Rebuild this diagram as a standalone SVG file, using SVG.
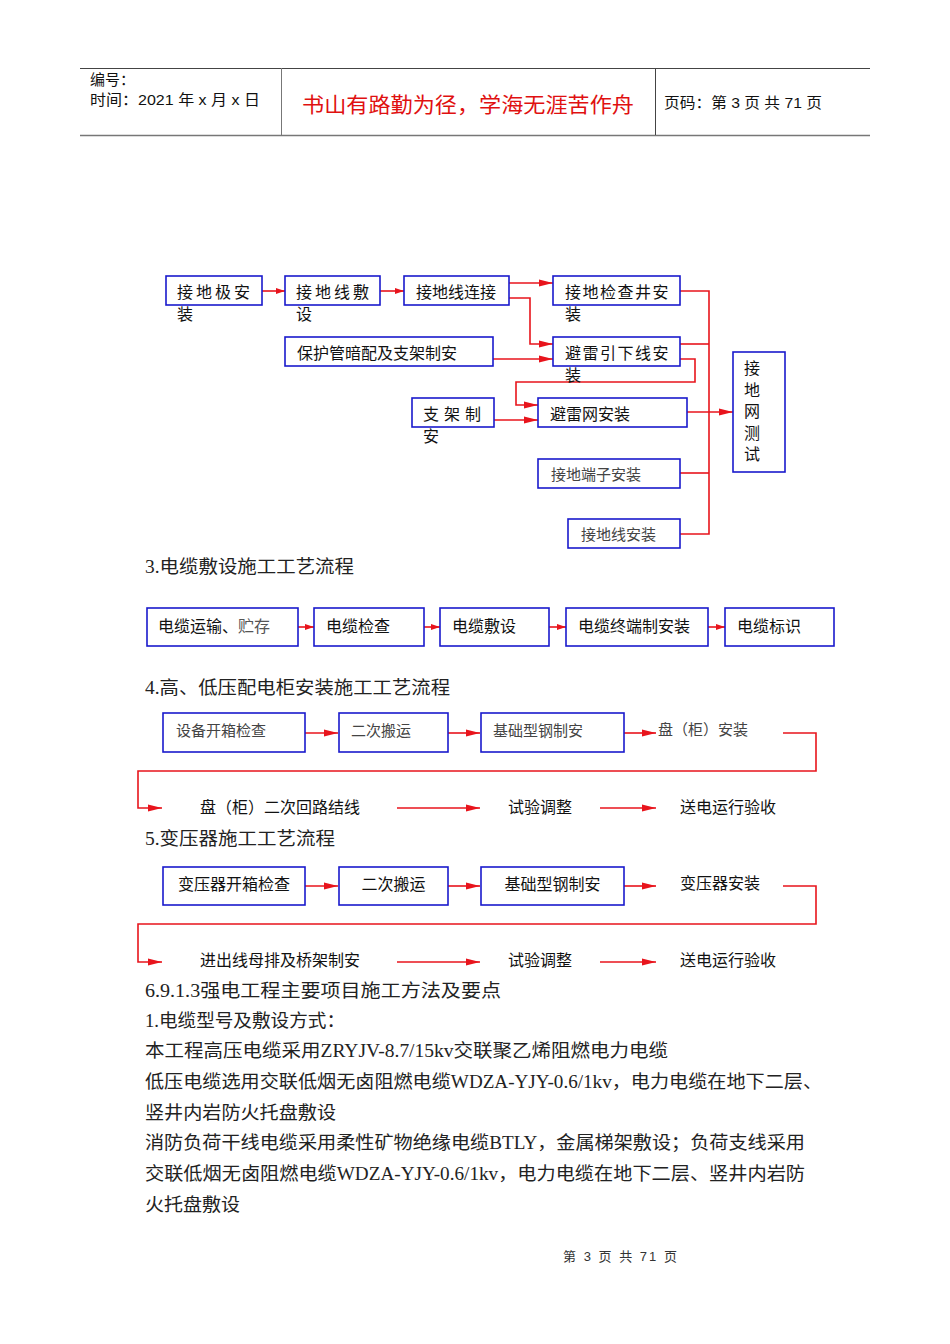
<svg xmlns="http://www.w3.org/2000/svg" width="950" height="1344" viewBox="0 0 950 1344">
<style>
.box{fill:#fff;stroke:#1a1acc;stroke-width:1.6}
.ln{fill:none;stroke:#e8141c;stroke-width:1.6}
.t{font-family:"Noto Sans CJK SC","Liberation Sans",sans-serif;font-size:16px;fill:#111}
.tg{font-family:"Noto Sans CJK SC","Liberation Sans",sans-serif;font-size:15px;fill:#444}
.s{font-family:"Liberation Serif","Noto Sans CJK SC",serif;font-size:18px;fill:#222}
.h{font-family:"Liberation Sans","Noto Sans CJK SC",sans-serif;font-size:15px;fill:#111}
</style>
<defs>
<marker id="a" markerUnits="userSpaceOnUse" markerWidth="14" markerHeight="8" refX="14" refY="4" orient="auto"><path d="M0,0.5 L14,4 L0,7.5 z" fill="#e8141c"/></marker>
<marker id="b" markerUnits="userSpaceOnUse" markerWidth="9" markerHeight="7" refX="9" refY="3.5" orient="auto"><path d="M0,0.5 L9,3.5 L0,6.5 z" fill="#e8141c"/></marker>
</defs>
<rect width="950" height="1344" fill="#fff"/>

<g id="header">
<line x1="80" y1="68.5" x2="870" y2="68.5" stroke="#444" stroke-width="1"/>
<line x1="80" y1="135.5" x2="870" y2="135.5" stroke="#777" stroke-width="1.5"/>
<line x1="281.5" y1="68" x2="281.5" y2="135" stroke="#777" stroke-width="1"/>
<line x1="655.5" y1="68" x2="655.5" y2="135" stroke="#444" stroke-width="1"/>
<text class="h" x="90" y="85">编号：</text>
<text class="h" x="90" y="105" textLength="170" lengthAdjust="spacingAndGlyphs">时间：2021 年 x 月 x 日</text>
<text x="302" y="112" textLength="332" lengthAdjust="spacingAndGlyphs" style="font-family:'Noto Sans CJK SC',sans-serif;font-size:21px;fill:#e01010">书山有路勤为径，学海无涯苦作舟</text>
<text class="h" x="664" y="108" textLength="158" lengthAdjust="spacingAndGlyphs">页码：第 3 页  共 71 页</text>
</g>

<g id="connectors">
<line class="ln" x1="262" y1="291" x2="285" y2="291" marker-end="url(#b)"/>
<line class="ln" x1="380" y1="291" x2="404" y2="291" marker-end="url(#b)"/>
<line class="ln" x1="509" y1="283" x2="553" y2="283" marker-end="url(#a)"/>
<polyline class="ln" points="509,298 530,298 530,344 553,344" marker-end="url(#a)"/>
<line class="ln" x1="493" y1="359" x2="553" y2="359" marker-end="url(#a)"/>
<polyline class="ln" points="680,359 695,359 695,382 516,382 516,405 538,405" marker-end="url(#a)"/>
<line class="ln" x1="494" y1="420" x2="538" y2="420" marker-end="url(#a)"/>
<polyline class="ln" points="680,291 709,291 709,534 680,534"/>
<line class="ln" x1="680" y1="344" x2="709" y2="344"/>
<line class="ln" x1="680" y1="473" x2="709" y2="473"/>
<line class="ln" x1="687" y1="412" x2="733" y2="412" marker-end="url(#a)"/>

<line class="ln" x1="298" y1="627" x2="314" y2="627" marker-end="url(#b)"/>
<line class="ln" x1="424" y1="627" x2="440" y2="627" marker-end="url(#b)"/>
<line class="ln" x1="549" y1="627" x2="566" y2="627" marker-end="url(#b)"/>
<line class="ln" x1="708" y1="627" x2="725" y2="627" marker-end="url(#b)"/>

<line class="ln" x1="305" y1="733" x2="338" y2="733" marker-end="url(#a)"/>
<line class="ln" x1="448" y1="733" x2="480" y2="733" marker-end="url(#a)"/>
<line class="ln" x1="624" y1="733" x2="656" y2="733" marker-end="url(#a)"/>
<polyline class="ln" points="783,733 816,733 816,771 138,771 138,808 162,808" marker-end="url(#a)"/>
<line class="ln" x1="397" y1="808" x2="480" y2="808" marker-end="url(#a)"/>
<line class="ln" x1="600" y1="808" x2="656" y2="808" marker-end="url(#a)"/>

<line class="ln" x1="305" y1="886" x2="338" y2="886" marker-end="url(#a)"/>
<line class="ln" x1="448" y1="886" x2="480" y2="886" marker-end="url(#a)"/>
<line class="ln" x1="624" y1="886" x2="656" y2="886" marker-end="url(#a)"/>
<polyline class="ln" points="783,886 816,886 816,924 138,924 138,962 162,962" marker-end="url(#a)"/>
<line class="ln" x1="397" y1="962" x2="480" y2="962" marker-end="url(#a)"/>
<line class="ln" x1="600" y1="962" x2="656" y2="962" marker-end="url(#a)"/>
</g>

<g id="n1"><rect class="box" x="166" y="276" width="96" height="29"/><text class="t" x="177" y="298" letter-spacing="3">接地极安</text><text class="t" x="177" y="320">装</text></g>
<g id="n2"><rect class="box" x="285" y="276" width="95" height="29"/><text class="t" x="296" y="298" letter-spacing="3">接地线敷</text><text class="t" x="296" y="320">设</text></g>
<g id="n3"><rect class="box" x="404" y="276" width="105" height="29"/><text class="t" x="416" y="298">接地线连接</text></g>
<g id="n4"><rect class="box" x="553" y="276" width="127" height="29"/><text class="t" x="565" y="298" letter-spacing="1.5">接地检查井安</text><text class="t" x="565" y="320">装</text></g>
<g id="n5"><rect class="box" x="285" y="337" width="208" height="29"/><text class="t" x="297" y="359">保护管暗配及支架制安</text></g>
<g id="n6"><rect class="box" x="553" y="337" width="127" height="29"/><text class="t" x="565" y="359" letter-spacing="1.5">避雷引下线安</text><text class="t" x="565" y="381">装</text></g>
<g id="n7"><rect class="box" x="412" y="398" width="82" height="29"/><text class="t" x="423" y="420" letter-spacing="5">支架制</text><text class="t" x="423" y="442">安</text></g>
<g id="n8"><rect class="box" x="538" y="398" width="149" height="29"/><text class="t" x="550" y="420">避雷网安装</text></g>
<g id="n9"><rect class="box" x="538" y="459" width="142" height="29"/><text class="tg" x="551" y="480">接地端子安装</text></g>
<g id="n10"><rect class="box" x="568" y="519" width="112" height="29"/><text class="tg" x="581" y="540">接地线安装</text></g>
<g id="n11"><rect class="box" x="733" y="352" width="52" height="120"/>
<text class="t" x="752" y="360" writing-mode="vertical-rl" letter-spacing="5.5">接地网测试</text></g>

<text class="s" x="145" y="573" textLength="209" lengthAdjust="spacingAndGlyphs">3.电缆敷设施工工艺流程</text>

<g id="c1"><rect class="box" x="147" y="608" width="151" height="38"/><text class="t" x="158" y="632">电缆运输、<tspan fill="#555">贮存</tspan></text></g>
<g id="c2"><rect class="box" x="314" y="608" width="110" height="38"/><text class="t" x="326" y="632">电缆检查</text></g>
<g id="c3"><rect class="box" x="440" y="608" width="109" height="38"/><text class="t" x="452" y="632">电缆敷设</text></g>
<g id="c4"><rect class="box" x="566" y="608" width="142" height="38"/><text class="t" x="578" y="632">电缆终端制安装</text></g>
<g id="c5"><rect class="box" x="725" y="608" width="109" height="38"/><text class="t" x="737" y="632">电缆标识</text></g>

<text class="s" x="145" y="694" textLength="305" lengthAdjust="spacingAndGlyphs">4.高、低压配电柜安装施工工艺流程</text>

<g id="p1"><rect class="box" x="163" y="713" width="142" height="39"/><text class="tg" x="176" y="736">设备开箱检查</text></g>
<g id="p2"><rect class="box" x="339" y="713" width="109" height="39"/><text class="tg" x="351" y="736">二次搬运</text></g>
<g id="p3"><rect class="box" x="481" y="713" width="143" height="39"/><text class="tg" x="493" y="736">基础型钢制安</text></g>
<g id="p4"><text class="tg" x="658" y="735">盘（柜）安装</text></g>
<g id="p5"><text class="t" x="200" y="813">盘（柜）二次回路结线</text></g>
<g id="p6"><text class="t" x="508" y="813">试验调整</text></g>
<g id="p7"><text class="t" x="680" y="813">送电运行验收</text></g>

<text class="s" x="145" y="845" textLength="190" lengthAdjust="spacingAndGlyphs">5.变压器施工工艺流程</text>

<g id="q1"><rect class="box" x="163" y="867" width="142" height="38"/><text class="t" x="234" y="890" text-anchor="middle">变压器开箱检查</text></g>
<g id="q2"><rect class="box" x="339" y="867" width="109" height="38"/><text class="t" x="393.5" y="890" text-anchor="middle">二次搬运</text></g>
<g id="q3"><rect class="box" x="481" y="867" width="143" height="38"/><text class="t" x="552.5" y="890" text-anchor="middle">基础型钢制安</text></g>
<g id="q4"><text class="t" x="680" y="889">变压器安装</text></g>
<g id="q5"><text class="t" x="200" y="966">进出线母排及桥架制安</text></g>
<g id="q6"><text class="t" x="508" y="966">试验调整</text></g>
<g id="q7"><text class="t" x="680" y="966">送电运行验收</text></g>

<g id="body">
<text class="s" x="145" y="997" textLength="356" lengthAdjust="spacingAndGlyphs">6.9.1.3强电工程主要项目施工方法及要点</text>
<text class="s" x="145" y="1027" textLength="200" lengthAdjust="spacingAndGlyphs">1.电缆型号及敷设方式：</text>
<text class="s" x="145" y="1057" textLength="523" lengthAdjust="spacingAndGlyphs">本工程高压电缆采用ZRYJV-8.7/15kv交联聚乙烯阻燃电力电缆</text>
<text class="s" x="145" y="1088" textLength="677" lengthAdjust="spacingAndGlyphs">低压电缆选用交联低烟无卤阻燃电缆WDZA-YJY-0.6/1kv，电力电缆在地下二层、</text>
<text class="s" x="145" y="1119" textLength="191" lengthAdjust="spacingAndGlyphs">竖井内岩防火托盘敷设</text>
<text class="s" x="145" y="1149" textLength="660" lengthAdjust="spacingAndGlyphs">消防负荷干线电缆采用柔性矿物绝缘电缆BTLY，金属梯架敷设；负荷支线采用</text>
<text class="s" x="145" y="1180" textLength="660" lengthAdjust="spacingAndGlyphs">交联低烟无卤阻燃电缆WDZA-YJY-0.6/1kv，电力电缆在地下二层、竖井内岩防</text>
<text class="s" x="145" y="1211" textLength="95" lengthAdjust="spacingAndGlyphs">火托盘敷设</text>
</g>

<text x="563" y="1261" textLength="114" lengthAdjust="spacing" style="font-family:'Liberation Sans','Noto Sans CJK SC',sans-serif;font-size:13px;fill:#333">第 3 页 共 71 页</text>
</svg>
